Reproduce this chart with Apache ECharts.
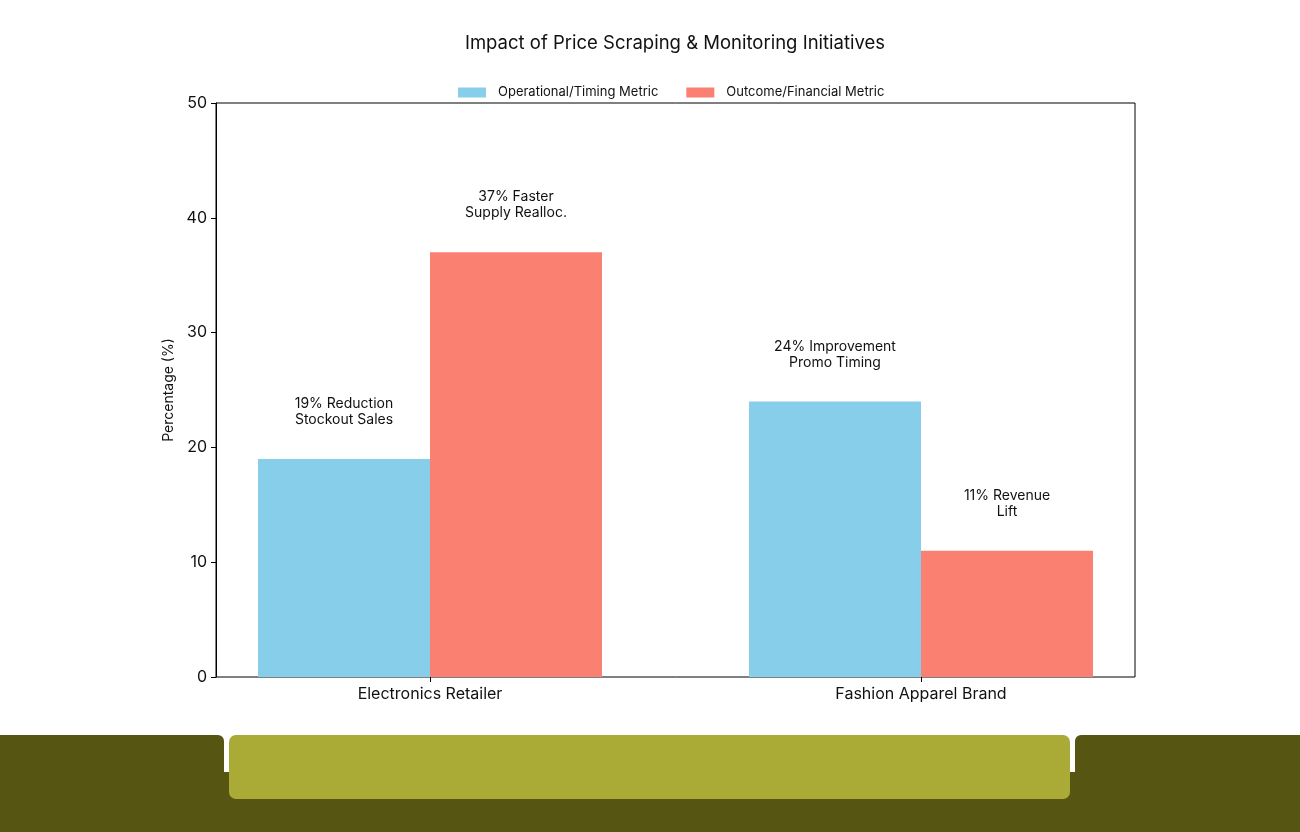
<!DOCTYPE html>
<html>
<head>
<meta charset="utf-8">
<script src="https://cdn.jsdelivr.net/npm/echarts@6/dist/echarts.min.js"></script>
<style>
html, body { margin: 0; padding: 0; background: #fff; }
#chart { width: 1300px; height: 832px; }
</style>
</head>
<body>
<div id="chart"></div>
<script>
// data
var categories = ['Electronics Retailer', 'Fashion Apparel Brand'];
var seriesNames = ['Operational/Timing Metric', 'Outcome/Financial Metric'];
var operational = [19, 24];
var outcome = [37, 11];
var operationalLabels = ['19% Reduction\nStockout Sales', '24% Improvement\nPromo Timing'];
var outcomeLabels = ['37% Faster\nSupply Realloc.', '11% Revenue\nLift'];
var yTicks = [0, 10, 20, 30, 40, 50];

(function(){
	var font = 'Inter, Roboto, sans-serif';
	var dark = '#565612';
	var light = '#aaab37';

	function barLabel(texts){
		return {
			show: true,
			position: 'top',
			distance: 31,
			fontSize: 14,
			lineHeight: 16,
			color: '#111',
			align: 'center',
			formatter: function(p){ return texts[p.dataIndex]; }
		};
	}

	var option = {
		backgroundColor: '#fff',
		animation: false,
		textStyle: { fontFamily: font },
		title: {
			text: 'Impact of Price Scraping & Monitoring Initiatives',
			left: 670, top: 29, textAlign: 'center',
			textStyle: { fontSize: 18.5, fontWeight: 'normal', color: '#111' }
		},
		legend: {
			data: seriesNames,
			left: 453, top: 81,
			itemWidth: 28, itemHeight: 10, itemGap: 28,
			icon: 'rect',
			textStyle: { fontSize: 13, color: '#111', padding: [0, 0, 0, 7] }
		},
		grid: [
			// frame grid (matches the plot box)
			{ left: 216, right: 165, top: 103, bottom: 155, show: true, borderColor: '#000', borderWidth: 1, backgroundColor: 'transparent' },
			// bar grid (wider so category centres land where the bars are)
			{ left: 184.5, right: 133.5, top: 103, bottom: 155 }
		],
		xAxis: [
			{ gridIndex: 0, type: 'value', min: 0, max: 1, show: false },
			{
				gridIndex: 1, type: 'category', data: categories,
				axisLine: { show: false },
				axisTick: { show: true, alignWithLabel: true, length: 5, lineStyle: { color: '#000' } },
				axisLabel: { fontSize: 16, color: '#111', margin: 9 },
				splitLine: { show: false }
			}
		],
		yAxis: [
			{
				gridIndex: 0, type: 'value', min: yTicks[0], max: yTicks[yTicks.length - 1], interval: 10,
				name: 'Percentage (%)', nameLocation: 'middle', nameGap: 37, nameRotate: 90,
				nameTextStyle: { fontSize: 14, color: '#111' },
				axisLine: { show: true, lineStyle: { color: '#000' } },
				axisTick: { show: true, length: 5, lineStyle: { color: '#000' } },
				axisLabel: { fontSize: 16, color: '#111', margin: 9 },
				splitLine: { show: false }
			},
			{ gridIndex: 1, type: 'value', min: 0, max: 50, show: false, splitLine: { show: false } }
		],
		series: [
			{
				name: seriesNames[0], type: 'bar', xAxisIndex: 1, yAxisIndex: 1,
				data: operational, barWidth: 172, barGap: '0%',
				itemStyle: { color: '#87ceeb' },
				label: barLabel(operationalLabels)
			},
			{
				name: seriesNames[1], type: 'bar', xAxisIndex: 1, yAxisIndex: 1,
				data: outcome, barWidth: 172, barGap: '0%',
				itemStyle: { color: '#fa8072' },
				label: barLabel(outcomeLabels)
			}
		],
		graphic: [
			{ type: 'rect', left: 0, top: 772, shape: { width: 1300, height: 60 }, style: { fill: dark }, silent: true },
			{ type: 'rect', left: 0, top: 735, shape: { width: 224, height: 60, r: [0, 6, 0, 0] }, style: { fill: dark }, silent: true },
			{ type: 'rect', left: 1075, top: 735, shape: { width: 225, height: 60, r: [6, 0, 0, 0] }, style: { fill: dark }, silent: true },
			{ type: 'rect', left: 229, top: 735, shape: { width: 841, height: 64, r: 7 }, style: { fill: light }, silent: true }
		]
	};

	var myChart = echarts.init(document.getElementById('chart'));
	myChart.setOption(option);
})();
</script>
</body>
</html>
